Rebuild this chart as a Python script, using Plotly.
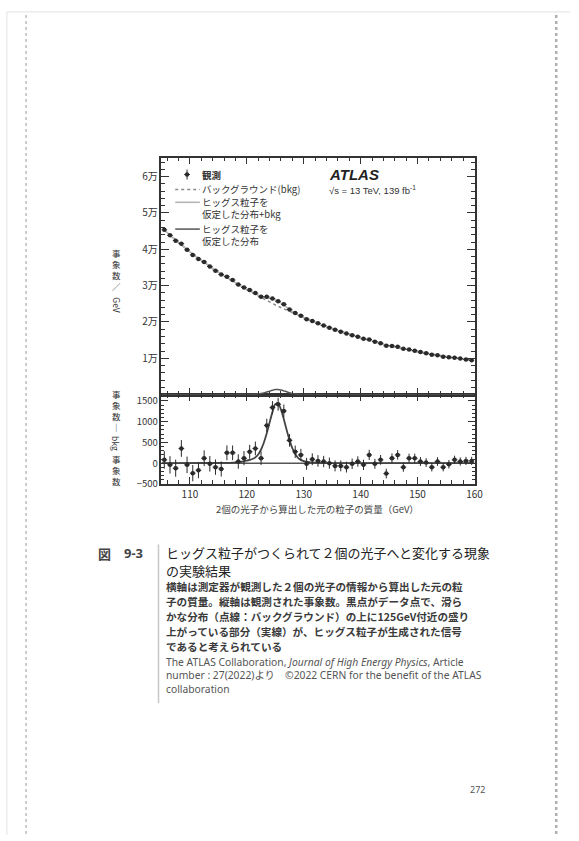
import plotly.graph_objects as go

W, H = 579, 841

# ---------------- data ----------------
mass = [105.5, 106.5, 107.5, 108.5, 109.5, 110.5, 111.5, 112.5, 113.5, 114.5,
        115.5, 116.5, 117.5, 118.5, 119.5, 120.5, 121.5, 122.5, 123.5, 124.5,
        125.5, 126.5, 127.5, 128.5, 129.5, 130.5, 131.5, 132.5, 133.5, 134.5,
        135.5, 136.5, 137.5, 138.5, 139.5, 140.5, 141.5, 142.5, 143.5, 144.5,
        145.5, 146.5, 147.5, 148.5, 149.5, 150.5, 151.5, 152.5, 153.5, 154.5,
        155.5, 156.5, 157.5, 158.5, 159.5]

bkg = [45300, 43900, 42500, 41200, 39900, 38700, 37500, 36400, 35300, 34200,
       33200, 32200, 31300, 30300, 29400, 28500, 27600, 26800, 26000, 25100,
       24300, 23600, 22900, 22200, 21500, 20800, 20200, 19600, 19000, 18400,
       17900, 17400, 16900, 16400, 15900, 15400, 15000, 14600, 14100, 13700,
       13300, 13000, 12700, 12300, 12000, 11700, 11400, 11100, 10800, 10500,
       10300, 10100, 9900, 9600, 9400]

residual = [80, -40, -120, 355, -40, -240, -170, 120, -15, -95,
            -140, 250, 250, 40, 120, 275, 355, 120, 910, 1340,
            1420, 1260, 550, 275, 200, -15, 95, 55, 40, 0,
            -65, -65, -95, -15, 40, -40, 200, -15, 80, -250,
            120, 200, -95, 120, 120, 40, 15, -95, 40, -95,
            -25, 80, 40, 55, 55]

errors = [212, 209, 206, 202, 199, 196, 193, 190, 187, 185,
          182, 179, 177, 174, 171, 168, 166, 163, 161, 158,
          156, 153, 151, 149, 146, 144, 142, 140, 137, 135,
          133, 131, 129, 127, 125, 124, 122, 120, 118, 117,
          115, 114, 112, 111, 109, 108, 106, 105, 104, 102,
          101, 100, 99, 98, 97]

sig_mass = [105, 116, 116.5, 117, 117.5, 118, 118.5, 119, 119.5, 120, 120.5,
            121, 121.5, 122, 122.5, 123, 123.5, 124, 124.5, 125, 125.5,
            126, 126.5, 127, 127.5, 128, 128.5, 129, 129.5, 130, 130.5,
            131, 131.5, 132, 132.5, 133, 133.5, 134, 160]
sig_vals = [0, 5, 7, 10, 14, 20, 27, 35, 46, 60, 78,
            100, 140, 210, 330, 500, 720, 980, 1230, 1420, 1430,
            1290, 1060, 800, 560, 360, 220, 130, 80, 50, 35,
            25, 18, 13, 9, 6, 4, 2, 0]

main_ticks = [10000, 20000, 30000, 40000, 50000, 60000]
main_ticktext = ["1万", "2万", "3万", "4万", "5万", "6万"]
ratio_ticks = [-500, 0, 500, 1000, 1500]
x_ticks = [110, 120, 130, 140, 150, 160]

# derived
data = [b + r for b, r in zip(bkg, residual)]
sig_lookup = dict(zip(sig_mass, sig_vals))
splusb = [b + sig_lookup.get(m, 0) for m, b in zip(mass, bkg)]

# ---------------- helpers ----------------
def px(x):
    return x / W

def py(y):
    return 1 - y / H

JP = "Noto Sans CJK JP"
DARK = "#2a2a2a"

fig = go.Figure()

# main panel
fig.add_trace(go.Scatter(x=mass, y=bkg, mode="lines", xaxis="x2", yaxis="y",
                         line=dict(color="#8a8a8a", width=1.5, dash="dot"),
                         showlegend=False, hoverinfo="skip"))
fig.add_trace(go.Scatter(x=mass, y=splusb, mode="lines", xaxis="x2", yaxis="y",
                         line=dict(color="#b5b5b5", width=1.6, shape="spline"),
                         showlegend=False, hoverinfo="skip"))
fig.add_trace(go.Scatter(x=sig_mass, y=sig_vals, mode="lines", xaxis="x2", yaxis="y",
                         line=dict(color="#555", width=1.5, shape="spline"),
                         showlegend=False, hoverinfo="skip"))
fig.add_trace(go.Scatter(x=mass, y=data, mode="markers", xaxis="x2", yaxis="y",
                         marker=dict(color=DARK, size=4.5),
                         error_y=dict(type="data", array=errors, color=DARK, thickness=1, width=0),
                         error_x=dict(type="constant", value=0.5, color=DARK, thickness=1, width=0),
                         showlegend=False))

# ratio panel
fig.add_trace(go.Scatter(x=[105, 160], y=[0, 0], mode="lines", xaxis="x", yaxis="y2",
                         line=dict(color="#555", width=1.5),
                         showlegend=False, hoverinfo="skip"))
fig.add_trace(go.Scatter(x=sig_mass, y=sig_vals, mode="lines", xaxis="x", yaxis="y2",
                         line=dict(color="#444", width=1.8, shape="spline"),
                         showlegend=False, hoverinfo="skip"))
fig.add_trace(go.Scatter(x=mass, y=residual, mode="markers", xaxis="x", yaxis="y2",
                         marker=dict(color=DARK, size=4.5),
                         error_y=dict(type="data", array=errors, color=DARK, thickness=1, width=0),
                         error_x=dict(type="constant", value=0.5, color=DARK, thickness=1, width=0),
                         showlegend=False))

xdom = [px(164), px(482)]
tickfont = dict(family=JP, size=10, color="#333")
axis_common = dict(showline=True, linecolor="#333", linewidth=1.5, mirror="ticks",
                   ticks="inside", tickcolor="#333", showgrid=False, zeroline=False)

fig.update_layout(
    width=W, height=H, margin=dict(l=0, r=0, t=0, b=0),
    paper_bgcolor="white", plot_bgcolor="white",
    xaxis=dict(domain=xdom, anchor="y2", range=[105, 160], tickvals=x_ticks,
               ticklen=7, tickfont=tickfont,
               minor=dict(dtick=2, tick0=104, ticklen=4, ticks="inside", tickcolor="#333"),
               **axis_common),
    xaxis2=dict(domain=xdom, anchor="y", range=[105, 160], matches="x", tickvals=x_ticks,
                ticklen=7, showticklabels=False,
                minor=dict(dtick=2, tick0=104, ticklen=4, ticks="inside", tickcolor="#333"),
                **axis_common),
    yaxis=dict(domain=[py(397), py(158)], anchor="x2", range=[0, 65200],
               tickvals=main_ticks, ticktext=main_ticktext, ticklen=8, tickfont=tickfont,
               minor=dict(dtick=2000, ticklen=4, ticks="inside", tickcolor="#333"),
               **axis_common),
    yaxis2=dict(domain=[py(487), py(397)], anchor="x", range=[-500, 1650],
                tickvals=ratio_ticks, ticklen=7, tickfont=dict(family=JP, size=9.5, color="#333"),
                minor=dict(dtick=100, ticklen=3, ticks="inside", tickcolor="#333"),
                **axis_common),
)

shapes = []
ann = []

# page frame lines
shapes.append(dict(type="line", xref="paper", yref="paper", x0=px(7), x1=1, y0=py(11), y1=py(11),
                   line=dict(color="#e2e2e2", width=1)))
shapes.append(dict(type="line", xref="paper", yref="paper", x0=px(7), x1=px(7), y0=py(11), y1=0,
                   line=dict(color="#e2e2e2", width=1)))
shapes.append(dict(type="line", xref="paper", yref="paper", x0=px(26.5), x1=px(26.5), y0=py(14), y1=0,
                   line=dict(color="#bdbdbd", width=1.5, dash="dot")))
shapes.append(dict(type="line", xref="paper", yref="paper", x0=px(565), x1=px(565), y0=py(14), y1=0,
                   line=dict(color="#b0b0b0", width=2.5, dash="dot")))
# caption bar
shapes.append(dict(type="line", xref="paper", yref="paper", x0=px(161), x1=px(161), y0=py(548), y1=py(708),
                   line=dict(color="#c8c8c8", width=1.5)))

# legend (manual)
shapes.append(dict(type="circle", xref="paper", yref="paper", x0=px(187.8), x1=px(192.2),
                   y0=py(177.2), y1=py(172.8), fillcolor=DARK, line=dict(color=DARK, width=0)))
shapes.append(dict(type="line", xref="paper", yref="paper", x0=px(190), x1=px(190),
                   y0=py(180), y1=py(170), line=dict(color=DARK, width=1)))
shapes.append(dict(type="line", xref="paper", yref="paper", x0=px(187), x1=px(193),
                   y0=py(175), y1=py(175), line=dict(color=DARK, width=1)))
shapes.append(dict(type="line", xref="paper", yref="paper", x0=px(178), x1=px(203),
                   y0=py(190), y1=py(190), line=dict(color="#8a8a8a", width=1.5, dash="dot")))
shapes.append(dict(type="line", xref="paper", yref="paper", x0=px(178), x1=px(203),
                   y0=py(203), y1=py(203), line=dict(color="#b5b5b5", width=1.6)))
shapes.append(dict(type="line", xref="paper", yref="paper", x0=px(178), x1=px(203),
                   y0=py(230), y1=py(230), line=dict(color="#555", width=1.5)))

def text(x, y, s, size=9, color="#333", xanchor="left", yanchor="middle", family=JP, angle=0, align="left"):
    ann.append(dict(x=px(x), y=py(y), xref="paper", yref="paper", text=s, showarrow=False,
                    xanchor=xanchor, yanchor=yanchor, textangle=angle, align=align, borderpad=0,
                    font=dict(family=family, size=size, color=color)))

text(204, 175, "<b>観測</b>", size=9.5)
text(204, 190, "バックグラウンド(bkg)", size=9.5)
text(204, 209, "ヒッグス粒子を<br>仮定した分布+bkg", size=9.5)
text(204, 236, "ヒッグス粒子を<br>仮定した分布", size=9.5)

# ATLAS label
text(333, 175, "<b><i>ATLAS</i></b>", size=15, color="#222", family="Liberation Sans")
text(333, 191, "√s = 13 TeV, 139 fb<sup>-1</sup>", size=9.5, color="#333", family="Liberation Sans")

# axis titles (vertical writing)
text(118, 271, "事<br>象<br>数<br>／", size=8.5, xanchor="center", align="center")
text(118, 306, "GeV", size=8.5, xanchor="center", angle=90)
text(118, 413, "事<br>象<br>数<br>｜", size=8.5, xanchor="center", align="center")
text(118, 446, "bkg", size=8.5, xanchor="center", angle=90)
text(118, 473, "事<br>象<br>数", size=8.5, xanchor="center", align="center")

text(323, 512, "2個の光子から算出した元の粒子の質量（GeV）", size=9.5, color="#444", xanchor="center")

# caption
text(106, 557, "<b>図</b>", size=13, color="#444", xanchor="center")
text(136, 557, "<b>9-3</b>", size=13, color="#444", xanchor="center", family="Noto Sans")
title_lines = ["ヒッグス粒子がつくられて２個の光子へと変化する現象", "の実験結果"]
for i, line in enumerate(title_lines):
    text(168, 556 + i * 18.2, line, size=13, color="#222")
body = ["横軸は測定器が観測した２個の光子の情報から算出した元の粒",
        "子の質量。縦軸は観測された事象数。黒点がデータ点で、滑ら",
        "かな分布（点線：バックグラウンド）の上に125GeV付近の盛り",
        "上がっている部分（実線）が、ヒッグス粒子が生成された信号",
        "であると考えられている"]
for i, line in enumerate(body):
    text(168, 590.5 + i * 15.0, "<b>" + line + "</b>", size=10.6, color="#3a3a3a")
eng = ["The ATLAS Collaboration, <i>Journal of High Energy Physics</i>, Article",
       "number : 27(2022)より　©2022 CERN for the benefit of the ATLAS",
       "collaboration"]
text(168, 680, "<br>".join(eng), size=10.3, color="#555", family="Noto Sans, " + JP)

# page number
text(485, 795, "272", size=9, color="#555", xanchor="center", family="Noto Sans")

fig.update_layout(shapes=shapes, annotations=ann)
fig.write_html("out.html", config={"displayModeBar": False},
               post_script="document.body.style.margin='0';document.body.style.overflow='hidden';")
